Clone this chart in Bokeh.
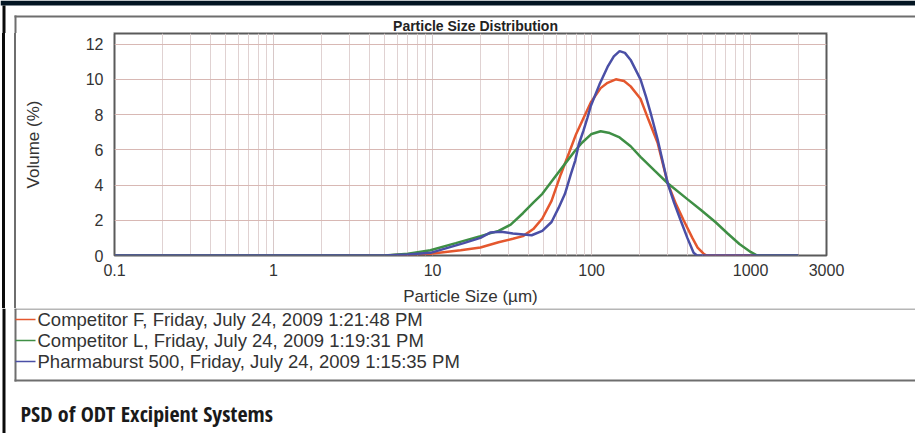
from bokeh.plotting import figure
from bokeh.layouts import column, row
from bokeh.models import FixedTicker, Range1d, Div
from bokeh.core.properties import value
from bokeh.embed import file_html
from bokeh.resources import INLINE

# ---- data ----
x_ticks = [0.1, 1, 10, 100, 1000, 3000]
x_tick_labels = ["0.1", "1", "10", "100", "1000", "3000"]
y_ticks = [0, 2, 4, 6, 8, 10, 12]

series_names = [
    "Competitor F, Friday, July 24, 2009 1:21:48 PM",
    "Competitor L, Friday, July 24, 2009 1:19:31 PM",
    "Pharmaburst 500, Friday, July 24, 2009 1:15:35 PM",
]

f_size = [0.1, 5, 7, 9.7, 15, 20, 26, 32, 37, 43, 49, 56, 64, 72, 80, 89, 99, 114, 126, 142,
          160, 176, 203, 228, 260, 301, 340, 379, 430, 464, 506, 530, 2000]
f_vol = [0, 0, 0.05, 0.1, 0.3, 0.45, 0.75, 0.95, 1.1, 1.5, 2.1, 3.1, 4.6, 5.8, 6.9, 7.8, 8.7, 9.5, 9.8, 10.0,
         9.9, 9.6, 8.9, 7.7, 6.4, 4.1, 2.9, 2.0, 1.0, 0.45, 0.1, 0, 0]

l_size = [0.1, 5, 7, 9.7, 14, 20, 26, 31, 37, 43, 49, 56, 68, 78, 87, 100, 114, 130, 150, 176, 203,
          250, 301, 400, 485, 600, 717, 850, 1000, 1100, 2000]
l_vol = [0, 0, 0.1, 0.3, 0.7, 1.1, 1.4, 1.75, 2.4, 3.0, 3.5, 4.2, 5.2, 5.9, 6.4, 6.9, 7.05, 6.95, 6.7, 6.2, 5.6,
         4.8, 4.1, 3.2, 2.6, 1.9, 1.25, 0.65, 0.2, 0, 0]

p_size = [0.1, 5, 7, 9.7, 15.7, 20, 23, 27, 32, 42, 49, 56, 62, 68, 74, 79, 83, 89, 94, 99, 112,
          126, 138, 150, 162, 176, 203, 220, 235, 260, 301, 330, 363, 400, 438, 460, 2000]
p_vol = [0, 0, 0.05, 0.15, 0.7, 1.0, 1.3, 1.35, 1.25, 1.15, 1.4, 1.9, 2.7, 3.5, 4.6, 5.4, 6.3, 7.1, 7.8, 8.5, 9.7,
         10.7, 11.3, 11.6, 11.5, 11.1, 10.0, 9.0, 8.1, 6.6, 4.1, 3.0, 2.0, 1.0, 0.15, 0, 0]

colors = ["#e4572e", "#3f8f45", "#4a4fa6"]

FONT = "Liberation Sans"
NARROW = "'Liberation Sans Narrow', 'Noto Sans Condensed', 'Open Sans Condensed', 'Roboto Condensed', 'Liberation Sans'"
W, H = 915, 433
TOP_H = 33          # header strip height (frame top at y=33)
LEFT_W = 16         # left strip width
CHART_H = 275       # chart strip height (y 33..308)
BOT_H = H - TOP_H - CHART_H
GREY = "#6e6e6e"
BAR = "#0a0a0a"
FRAME = "#5a5a5a"


def deco_fig(w, h, y0):
    f = figure(width=w, height=h, x_range=Range1d(0, w), y_range=Range1d(y0 + h, y0),
               x_axis_location=None, y_axis_location=None, output_backend="svg",
               toolbar_location=None, min_border=0)
    f.outline_line_color = None
    f.grid.visible = False
    f.border_fill_color = "white"
    f.background_fill_color = "white"
    return f


# ---- header strip ----
top = deco_fig(W, TOP_H, 0)
top.quad(left=[0], right=[W], top=[0], bottom=[5], fill_color="#031522", line_color=None)
top.quad(left=[2, 14, 14, 113], right=[5, W, 16, 827], top=[5, 15, 15, 32], bottom=[TOP_H, 17, TOP_H, 33],
         fill_color=[BAR, GREY, GREY, FRAME], line_color=None)
top.text(x=[475], y=[TOP_H], text=["Particle Size Distribution"], text_align="center",
         text_baseline="bottom", text_font=value(FONT), text_font_style="bold",
         text_font_size="14px", text_color="#222222")

# ---- left strip (plain HTML block, so no plot-frame alignment) ----
left = Div(width=LEFT_W, height=CHART_H, margin=0,
           text=f'<div style="width:{LEFT_W}px;height:{CHART_H}px;background:linear-gradient(to right,'
                f' #ffffff 0px, #ffffff 2px, {BAR} 2px, {BAR} 5px, #ffffff 5px, #ffffff 14px,'
                f' {GREY} 14px, {GREY} 16px)"></div>')

# ---- chart ----
p = figure(width=W - LEFT_W, height=CHART_H, x_axis_type="log", x_range=Range1d(0.1, 3000),
           y_range=Range1d(0, 12.6), output_backend="svg", toolbar_location=None,
           min_border_left=114 - LEFT_W, min_border_right=W - 826, min_border_top=0,
           min_border_bottom=TOP_H + CHART_H - 255)
p.border_fill_color = "white"
p.background_fill_color = "white"
p.outline_line_color = FRAME
p.outline_line_width = 2

minor = [m * d for d in [0.1, 1, 10, 100, 1000] for m in range(2, 10)] + [2000]
p.xaxis.ticker = FixedTicker(ticks=x_ticks, minor_ticks=minor)
p.xaxis.major_label_overrides = {t: s for t, s in zip(x_ticks, x_tick_labels)}
p.yaxis.ticker = FixedTicker(ticks=y_ticks)

for ax in (p.xaxis, p.yaxis):
    ax.axis_line_color = None
    ax.major_tick_line_color = None
    ax.minor_tick_line_color = None
    ax.major_label_text_font = FONT
    ax.major_label_text_font_size = "16px"
    ax.major_label_text_color = "#333333"
    ax.axis_label_text_font = FONT
    ax.axis_label_text_font_size = "17px"
    ax.axis_label_text_font_style = "normal"
    ax.axis_label_text_color = "#333333"

p.xaxis.axis_label = "Particle Size (µm)"
p.yaxis.axis_label = "Volume (%)"
p.xaxis.major_label_standoff = 2
p.yaxis.major_label_standoff = 5
p.xaxis.axis_label_standoff = 8
p.yaxis.axis_label_standoff = 40

p.xgrid.grid_line_color = "#d8c8c8"
p.xgrid.minor_grid_line_color = "#e0d2d2"
p.ygrid.grid_line_color = "#d8b8b4"

p.line(f_size, f_vol, line_color=colors[0], line_width=2.5)
p.line(l_size, l_vol, line_color=colors[1], line_width=2.5)
p.line(p_size, p_vol, line_color=colors[2], line_width=2.5)

# ---- legend / caption strip ----
y0 = TOP_H + CHART_H
bot = deco_fig(W, BOT_H, y0)
bot.quad(left=[2, 14, 14, 14], right=[5, 16, W, W], top=[y0, y0, y0, 379], bottom=[H, 381, y0 + 1, 381],
         fill_color=[BAR, GREY, GREY, GREY], line_color=None)
leg_y = [319, 340, 361]
bot.segment(x0=[15] * 3, x1=[35] * 3, y0=leg_y, y1=leg_y, line_color=colors, line_width=1.5)
bot.text(x=[37] * 3, y=leg_y, text=series_names, text_align="left", text_baseline="middle",
         text_font=value(FONT), text_font_size="18.5px", text_color="#333333")
bot.text(x=[20], y=[412], text=["PSD of ODT Excipient Systems"], text_align="left",
         text_baseline="alphabetic", text_font=value(NARROW), text_font_style="bold",
         text_font_size="22px", text_color="#1a1a1a")

layout = column(top, row(left, p, spacing=0), bot, spacing=0)
open("out.html", "w").write(file_html(layout, INLINE))
